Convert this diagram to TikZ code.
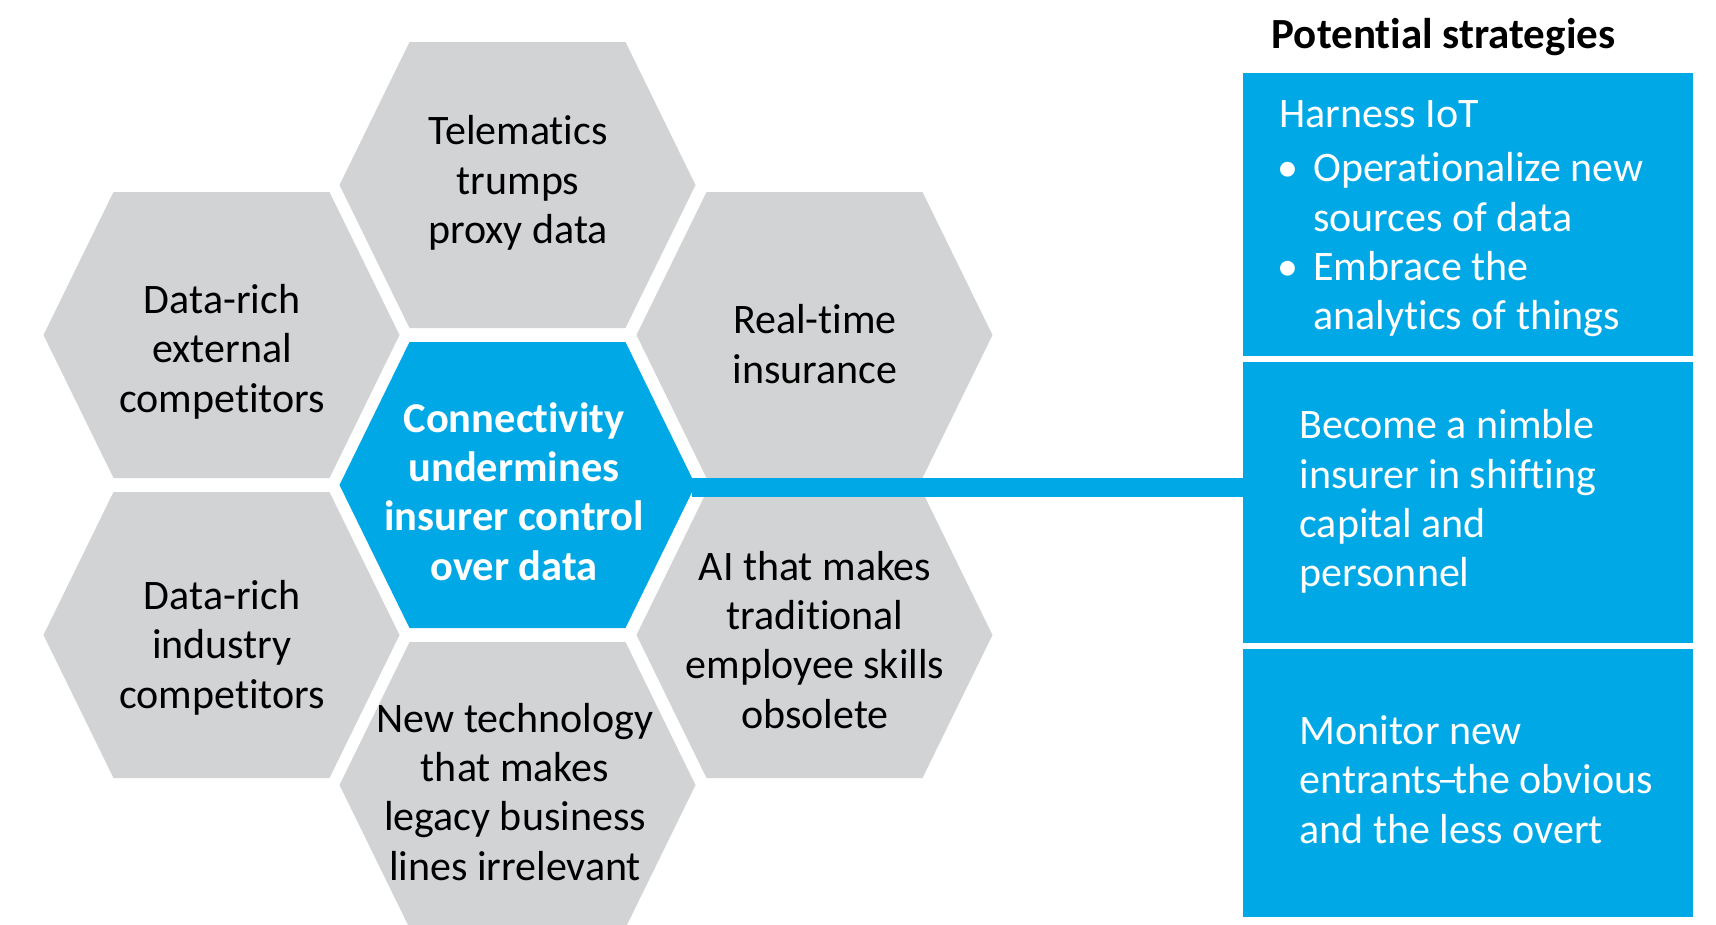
\documentclass[tikz,border=0pt]{standalone}
\usepackage{fontspec}
\setmainfont{Carlito}[Ligatures=NoCommon]
\definecolor{dblue}{HTML}{00A9E6}
\definecolor{hgrey}{HTML}{D1D3D4}
\begin{document}
\begin{tikzpicture}[x=1pt,y=-1pt,
  hexa/.pic={\fill[pic actions] (-178,0) -- (-108,-143) -- (108,-143) -- (178,0) -- (108,143) -- (-108,143) -- cycle;},
  htext/.style={font=\fontsize{42}{49.3}\selectfont, align=center, anchor=base, inner sep=0pt, text=black},
  ctext/.style={font=\fontsize{42.5}{49.3}\selectfont\bfseries, align=center, anchor=base, inner sep=0pt, text=white},
  stratbox/.style={fill=dblue, draw=none, minimum width=450pt, inner sep=0pt},
  btext/.style={font=\fontsize{42}{49.3}\selectfont, align=left, anchor=base west, inner sep=0pt, text=white},
  titletext/.style={font=\fontsize{43}{49.3}\selectfont\bfseries, anchor=base, inner sep=0pt, text=black},
  linkbar/.style={draw=dblue, line width=19.3pt},
]
\useasboundingbox (0,0) rectangle (1716,924);
\clip (0,0) rectangle (1716,924);

% hexagons
\pic[fill=hgrey] at (517.5,185) {hexa};
\pic[fill=hgrey] at (221.5,335) {hexa};
\pic[fill=hgrey] at (814.5,335) {hexa};
\pic[fill=dblue] at (517.5,485) {hexa};
\pic[fill=hgrey] at (221.5,635) {hexa};
\pic[fill=hgrey] at (814.5,635) {hexa};
\pic[fill=hgrey] at (517.5,785) {hexa};

% hexagon texts (anchor = baseline of last line)
\node[htext] (tele) at (518,243.5) {Telematics\\trumps\\proxy data};
\node[htext] (ext) at (222,412) {Data-rich\\external\\competitors};
\node[htext] (rt) at (815,383) {Real-time\\insurance};
\node[ctext] (hc) at (514,580) {Connectivity\\undermines\\insurer control\\over data};
\node[htext] (ind) at (222,708) {Data-rich\\industry\\competitors};
\node[htext] (ai) at (815,728) {AI that makes\\traditional\\employee skills\\obsolete};
\node[htext] (nt) at (515,880) {New technology\\that makes\\legacy business\\lines irrelevant};

% strategy boxes
\node[titletext] (title) at (1443.5,48) {Potential strategies};
\node[stratbox, minimum height=283.6pt] (b1) at (1467.7,214.5) {};
\node[stratbox, minimum height=281.6pt] (b2) at (1467.7,502.5) {};
\node[stratbox, minimum height=268.3pt] (b3) at (1467.7,783.2) {};

\node[btext] (h1) at (1279,127.3) {Harness IoT};
\node[btext, anchor=base] (bu1) at (1288.3,181.7) {•};
\node[btext] (h1a) at (1313,231) {Operationalize new\\sources of data};
\node[btext, anchor=base] (bu2) at (1288.3,280.7) {•};
\node[btext] (h1b) at (1313,329.3) {Embrace the\\analytics of things};
\node[btext] (t2) at (1299.3,586.7) {Become a nimble\\insurer in shifting\\capital and\\personnel};
\node[btext] (t3) at (1299.3,843) {Monitor new\\entrants\kern-0.12em–\kern-0.12em the obvious\\and the less overt};

% connector
\coordinate (hcE) at (692,487.7);
\draw[linkbar] (hcE) -- (hcE -| b2.west);
\end{tikzpicture}
\end{document}
